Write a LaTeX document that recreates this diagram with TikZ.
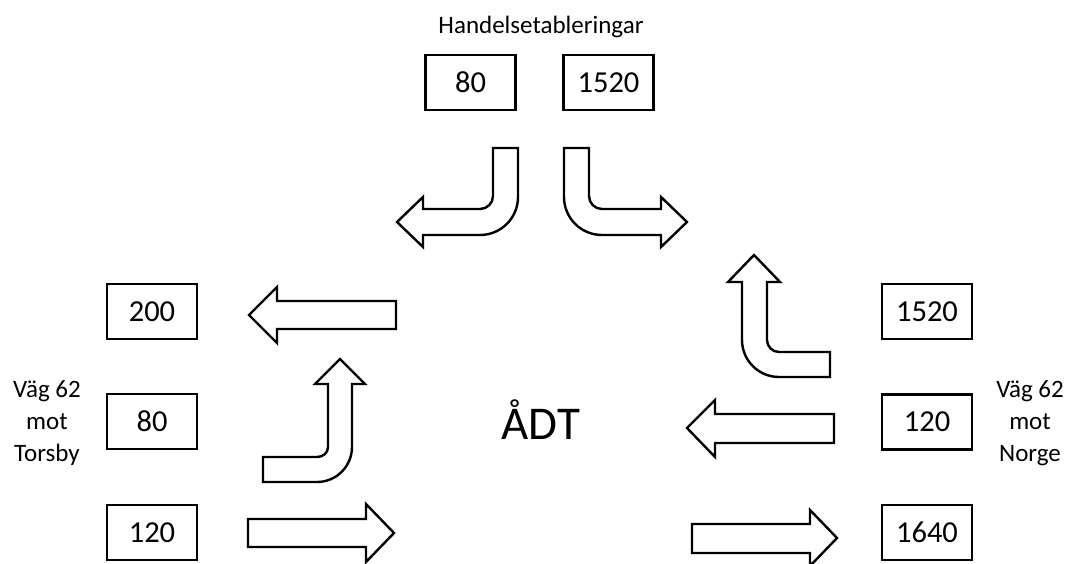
\documentclass[tikz,border=0pt]{standalone}
\usepackage{fontspec}
\setmainfont{Carlito}
\begin{document}
\begin{tikzpicture}[x=1pt,y=-1pt,
  valbox/.style={draw=black,line width=2.2pt,minimum width=90pt,minimum height=55pt,inner sep=0pt,font=\fontsize{30.5}{36}\selectfont},
  lbl/.style={align=center,font=\fontsize{25}{32}\selectfont,inner sep=0pt},
  flow/.style={draw=black,line width=2.4pt,fill=white,line join=miter}]
\useasboundingbox (0,0) rectangle (1067,564);
\fill[white] (0,0) rectangle (1067,564);

% labels
\node[lbl] (handel) at (541,27) {Handelsetableringar};
\node[lbl] (torsby) at (47,423) {Väg 62\\mot\\Torsby};
\node[lbl] (norge) at (1030,423) {Väg 62\\mot\\Norge};
\node[anchor=base,inner sep=0pt,font=\fontsize{47}{52}\selectfont] (adt) at (541,439) {ÅDT};

% boxes
\node[valbox] (t80) at (470.5,82.5) {80};
\node[valbox] (t1520) at (608.5,82.5) {1520};
\node[valbox] (l200) at (152,311.5) {200};
\node[valbox] (l80) at (152,421.5) {80};
\node[valbox] (l120) at (152,532.5) {120};
\node[valbox] (r1520) at (927,311.5) {1520};
\node[valbox] (r120) at (927,422) {120};
\node[valbox] (r1640) at (927,532.5) {1640};

% top-left bent arrow (down then left)
\draw[flow] (518,148) -- (518,197) .. controls (518,218) and (501,235) .. (480,235)
  -- (423,235) -- (423,247) -- (397,222) -- (423,197) -- (423,209) -- (480,209)
  .. controls (487.2,209) and (493,203.2) .. (493,196) -- (493,148) -- cycle;

% top-right bent arrow (down then right)
\draw[flow] (564,148) -- (564,197) .. controls (564,218) and (581,235) .. (602,235)
  -- (661,235) -- (661,247) -- (687,222) -- (661,197) -- (661,209) -- (602,209)
  .. controls (594.8,209) and (589,203.2) .. (589,196) -- (589,148) -- cycle;

% left straight arrow (pointing left)
\draw[flow] (396,301) -- (277,301) -- (277,287) -- (249,315) -- (277,343) -- (277,329) -- (396,329) -- cycle;

% left bent arrow (right then up)
\draw[flow] (263,482) -- (317,482) .. controls (336.3,482) and (352,466.3) .. (352,447)
  -- (352,384) -- (365,384) -- (340,359) -- (315,384) -- (328,384) -- (328,447)
  .. controls (328,453) and (323,457) .. (317,457) -- (263,457) -- cycle;

% bottom-left straight arrow (pointing right)
\draw[flow] (248,519) -- (366,519) -- (366,504) -- (394,533) -- (366,562) -- (366,547) -- (248,547) -- cycle;

% right bent arrow (left then up)
\draw[flow] (830,377) -- (779,377) .. controls (758.6,377) and (742,360.4) .. (742,340)
  -- (742,282) -- (728,282) -- (754,255) -- (780,282) -- (767,282) -- (767,340)
  .. controls (767,346.6) and (772.4,352) .. (779,352) -- (830,352) -- cycle;

% right straight arrow (pointing left)
\draw[flow] (834,414) -- (715,414) -- (715,400) -- (687,428) -- (715,457) -- (715,443) -- (834,443) -- cycle;

% bottom-right straight arrow (pointing right)
\draw[flow] (692,524) -- (810,524) -- (810,510) -- (837,538) -- (810,566) -- (810,553) -- (692,553) -- cycle;
\end{tikzpicture}
\end{document}
